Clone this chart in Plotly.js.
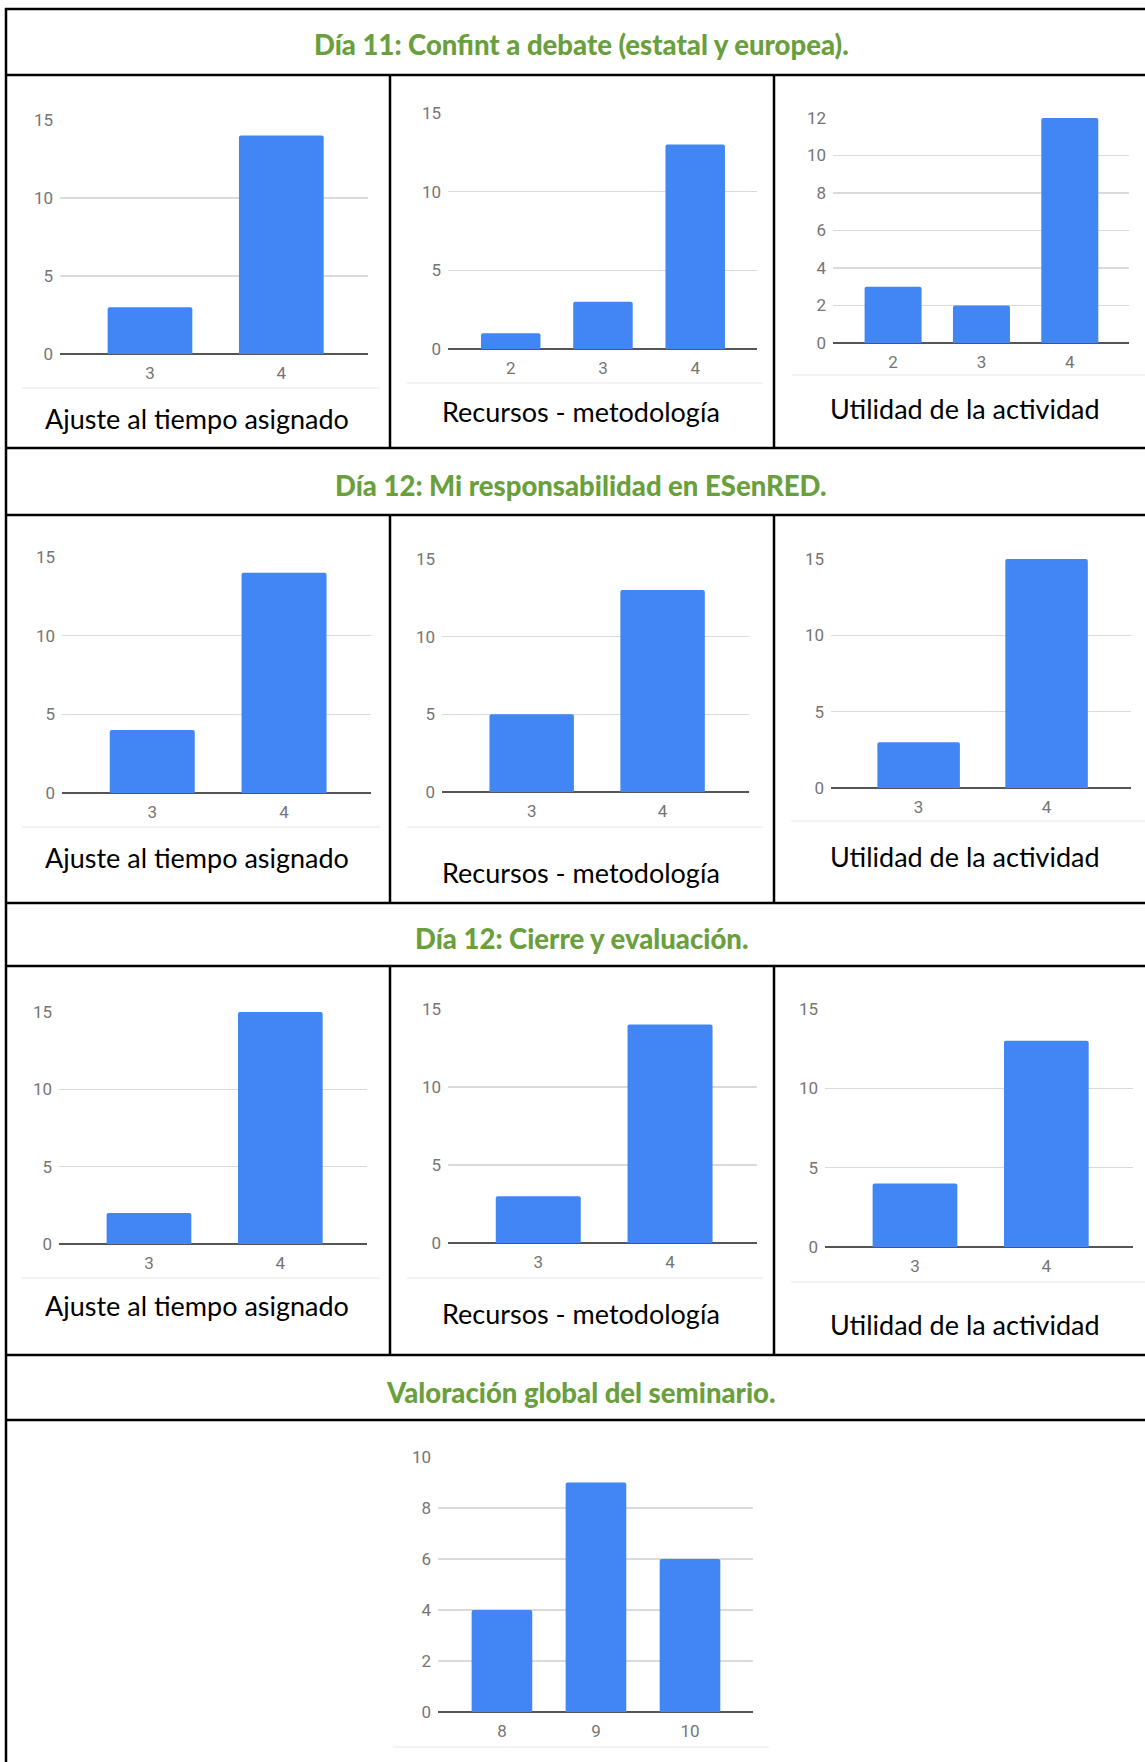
<!DOCTYPE html>
<html><head><meta charset="utf-8">
<script src="https://cdn.plot.ly/plotly-3.0.1.min.js"></script>
<style>html,body{margin:0;padding:0;background:#fff;overflow:hidden}</style>
</head><body>
<div id="chart" style="width:1145px;height:1762px"></div>
<script>
// ---- Data ----
const headers = [
  'Día 11: Confint a debate (estatal y europea).',
  'Día 12: Mi responsabilidad en ESenRED.',
  'Día 12: Cierre y evaluación.',
  'Valoración global del seminario.'
];
const subtitles = ['Ajuste al tiempo asignado', 'Recursos - metodología', 'Utilidad de la actividad'];

const d11TiempoCats = ['3', '4'];
const d11TiempoVals = [3, 14];
const d11RecursosCats = ['2', '3', '4'];
const d11RecursosVals = [1, 3, 13];
const d11UtilidadCats = ['2', '3', '4'];
const d11UtilidadVals = [3, 2, 12];

const d12ResTiempoCats = ['3', '4'];
const d12ResTiempoVals = [4, 14];
const d12ResRecursosCats = ['3', '4'];
const d12ResRecursosVals = [5, 13];
const d12ResUtilidadCats = ['3', '4'];
const d12ResUtilidadVals = [3, 15];

const d12CierreTiempoCats = ['3', '4'];
const d12CierreTiempoVals = [2, 15];
const d12CierreRecursosCats = ['3', '4'];
const d12CierreRecursosVals = [3, 14];
const d12CierreUtilidadCats = ['3', '4'];
const d12CierreUtilidadVals = [4, 13];

const globalCats = ['8', '9', '10'];
const globalVals = [4, 9, 6];

// ---- Layout geometry (pixels) ----
const W = 1145, H = 1762;
const px = v => v / W;
const py = v => 1 - v / H;
const R2 = [-0.685, 1.66], R3 = [-0.68, 2.67];

const panels = [
  {cats: d11TiempoCats, vals: d11TiempoVals, gx: [60, 368], gy: [120, 354], ymax: 15, dtick: 5, range: R2, sep: [22, 380, 388], sub: [0, 197, 418]},
  {cats: d11RecursosCats, vals: d11RecursosVals, gx: [448, 757], gy: [113, 349], ymax: 15, dtick: 5, range: R3, sep: [407, 763, 383], sub: [1, 581, 412]},
  {cats: d11UtilidadCats, vals: d11UtilidadVals, gx: [833, 1129], gy: [118, 343], ymax: 12, dtick: 2, range: R3, sep: [792, 1150, 375], sub: [2, 965, 408]},
  {cats: d12ResTiempoCats, vals: d12ResTiempoVals, gx: [62, 371], gy: [557, 793], ymax: 15, dtick: 5, range: R2, sep: [22, 380, 827], sub: [0, 197, 857]},
  {cats: d12ResRecursosCats, vals: d12ResRecursosVals, gx: [442, 749], gy: [559, 792], ymax: 15, dtick: 5, range: R2, sep: [407, 763, 827], sub: [1, 581, 872]},
  {cats: d12ResUtilidadCats, vals: d12ResUtilidadVals, gx: [831, 1131], gy: [559, 788], ymax: 15, dtick: 5, range: R2, sep: [791, 1150, 821], sub: [2, 965, 856]},
  {cats: d12CierreTiempoCats, vals: d12CierreTiempoVals, gx: [59, 367], gy: [1012, 1244], ymax: 15, dtick: 5, range: R2, sep: [22, 380, 1278], sub: [0, 197, 1305]},
  {cats: d12CierreRecursosCats, vals: d12CierreRecursosVals, gx: [448, 757], gy: [1009, 1243], ymax: 15, dtick: 5, range: R2, sep: [407, 763, 1278], sub: [1, 581, 1313]},
  {cats: d12CierreUtilidadCats, vals: d12CierreUtilidadVals, gx: [825, 1133], gy: [1009, 1247], ymax: 15, dtick: 5, range: R2, sep: [791, 1150, 1282], sub: [2, 965, 1324]},
  {cats: globalCats, vals: globalVals, gx: [438, 753], gy: [1457, 1712], ymax: 10, dtick: 2, range: R3, sep: [393, 769, 1747], sub: null}
];

const tickFont = {family: 'Roboto, Arial, sans-serif', size: 17, color: '#757575'};
const data = [];
const layout = {
  width: W, height: H, autosize: false,
  margin: {l: 0, r: 0, t: 0, b: 0},
  paper_bgcolor: '#fff', plot_bgcolor: 'rgba(0,0,0,0)',
  showlegend: false,
  shapes: [], annotations: []
};

panels.forEach((p, i) => {
  const n = i + 1;
  const sfx = n === 1 ? '' : String(n);
  data.push({
    type: 'bar', x: p.cats, y: p.vals, width: 0.645,
    xaxis: 'x' + sfx, yaxis: 'y' + sfx,
    marker: {color: '#4285f4', cornerradius: 2, line: {width: 0}},
    hoverinfo: 'none'
  });
  layout['xaxis' + sfx] = {
    type: 'category', domain: [px(p.gx[0]), px(p.gx[1])], range: p.range,
    anchor: 'y' + sfx, showgrid: false, showline: false, zeroline: false,
    ticks: '', tickfont: tickFont, ticklabelstandoff: 7, fixedrange: true
  };
  layout['yaxis' + sfx] = {
    domain: [py(p.gy[1]), py(p.gy[0])], range: [0, p.ymax], dtick: p.dtick, tick0: 0,
    anchor: 'x' + sfx, showgrid: true, gridcolor: '#dadada', gridwidth: 1.3,
    zeroline: true, zerolinecolor: '#555555', zerolinewidth: 1.8,
    showline: false, ticks: '', tickfont: tickFont, ticklabelstandoff: 6, fixedrange: true
  };
  layout.shapes.push({type: 'line', xref: 'paper', yref: 'paper',
    x0: px(p.sep[0]), x1: px(p.sep[1]), y0: py(p.sep[2]), y1: py(p.sep[2]),
    line: {color: '#e6e6e6', width: 1}});
  if (p.sub) {
    layout.annotations.push({xref: 'paper', yref: 'paper', x: px(p.sub[1]), y: py(p.sub[2]),
      xanchor: 'center', yanchor: 'middle', showarrow: false, text: subtitles[p.sub[0]],
      font: {family: 'Lato, "Open Sans", sans-serif', size: 27, color: '#000'}});
  }
});

// headers
const headerY = [45, 485, 938, 1392];
headers.forEach((t, i) => {
  layout.annotations.push({xref: 'paper', yref: 'paper', x: px(581), y: py(headerY[i]),
    xanchor: 'center', yanchor: 'middle', showarrow: false, text: t,
    font: {family: 'Lato, "Open Sans", sans-serif', size: 27.5, weight: 900, color: '#6a9f3e'}});
});

// table borders
const bc = {color: '#000', width: 2.5};
[9, 75, 448, 515, 903, 966, 1355, 1420].forEach(y => {
  layout.shapes.push({type: 'line', xref: 'paper', yref: 'paper', x0: px(5), x1: 1.02, y0: py(y), y1: py(y), line: bc});
});
layout.shapes.push({type: 'line', xref: 'paper', yref: 'paper', x0: px(6), x1: px(6), y0: py(8), y1: py(1770), line: bc});
[[75, 448], [515, 903], [966, 1355]].forEach(s => {
  [390, 774].forEach(x => {
    layout.shapes.push({type: 'line', xref: 'paper', yref: 'paper', x0: px(x), x1: px(x), y0: py(s[0]), y1: py(s[1]), line: bc});
  });
});

Plotly.newPlot('chart', data, layout, {staticPlot: true, displayModeBar: false});
</script>
</body></html>
